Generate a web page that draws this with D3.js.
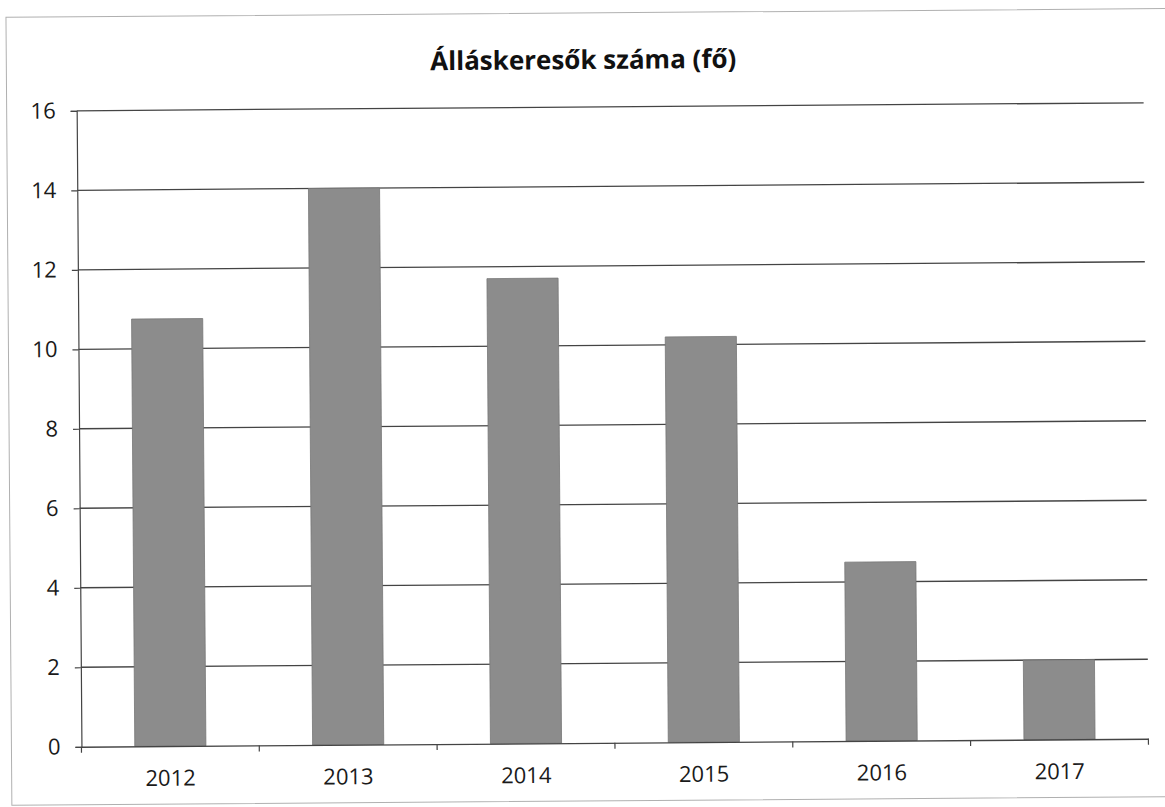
<!DOCTYPE html>
<html><head><meta charset="utf-8">
<script src="https://cdn.jsdelivr.net/npm/d3@7"></script>
<style>body{margin:0;background:#fff}svg{display:block}</style>
</head><body>
<svg id="c" width="1165" height="807"></svg>
<script>
const categories = ["2012","2013","2014","2015","2016","2017"];
const values = [10.75, 14.0, 11.7, 10.2, 4.5, 2.0];
const yTicks = [0,2,4,6,8,10,12,14,16];
const title = "Álláskeresők száma (fő)";

(function(){
const svg = d3.select("#c");
const font = "'Open Sans', 'Noto Sans', sans-serif";
const g = svg.append("g").attr("transform","rotate(-0.43,582,420)");

g.append("rect").attr("x",9).attr("y",13).attr("width",1170).attr("height",788)
  .attr("fill","none").attr("stroke","#b0b0b0").attr("stroke-width",1);

const pL = 79, pR = 1146, pT = 107, pB = 743;
const x = d3.scaleBand().domain(categories).range([pL,pR]).paddingInner(0.6).paddingOuter(0.3);
const y = d3.scaleLinear().domain([0,16]).range([pB,pT]);

g.append("g").selectAll("line").data(yTicks.filter(d=>d>0)).join("line")
  .attr("x1",pL).attr("x2",pR).attr("y1",d=>y(d)).attr("y2",d=>y(d))
  .attr("stroke","#444").attr("stroke-width",1.3);

g.append("g").selectAll("rect").data(values).join("rect")
  .attr("x",(d,i)=>x(categories[i])).attr("width",x.bandwidth())
  .attr("y",d=>y(d)).attr("height",d=>y(0)-y(d))
  .attr("fill","#8c8c8c").attr("stroke","#777").attr("stroke-width",0.8);

const ya = g.append("g").attr("transform",`translate(${pL},0)`)
  .call(d3.axisLeft(y).tickValues(yTicks).tickSize(6).tickPadding(15));
ya.select(".domain").attr("stroke","#444").attr("stroke-width",1.2);
ya.selectAll(".tick line").attr("stroke","#444").attr("stroke-width",1.2);
ya.selectAll("text").attr("font-family",font).attr("font-size",22).attr("fill","#1a1a1a");

const xa = g.append("g").attr("transform",`translate(0,${pB})`)
  .call(d3.axisBottom(x).tickSize(0).tickPadding(24));
xa.select(".domain").attr("stroke","#444").attr("stroke-width",1.3);
xa.selectAll("text").attr("font-family",font).attr("font-size",22).attr("fill","#1a1a1a");
const bounds = d3.range(categories.length+1).map(i=>pL + i*(pR-pL)/categories.length);
g.append("g").selectAll("line").data(bounds).join("line")
  .attr("x1",d=>d).attr("x2",d=>d).attr("y1",pB).attr("y2",pB+6)
  .attr("stroke","#444").attr("stroke-width",1.2);

g.append("text").attr("x",586).attr("y",69).attr("text-anchor","middle")
  .attr("font-family",font).attr("font-weight","bold").attr("font-size",26)
  .attr("fill","#111").text(title);
})();
</script>
</body></html>
